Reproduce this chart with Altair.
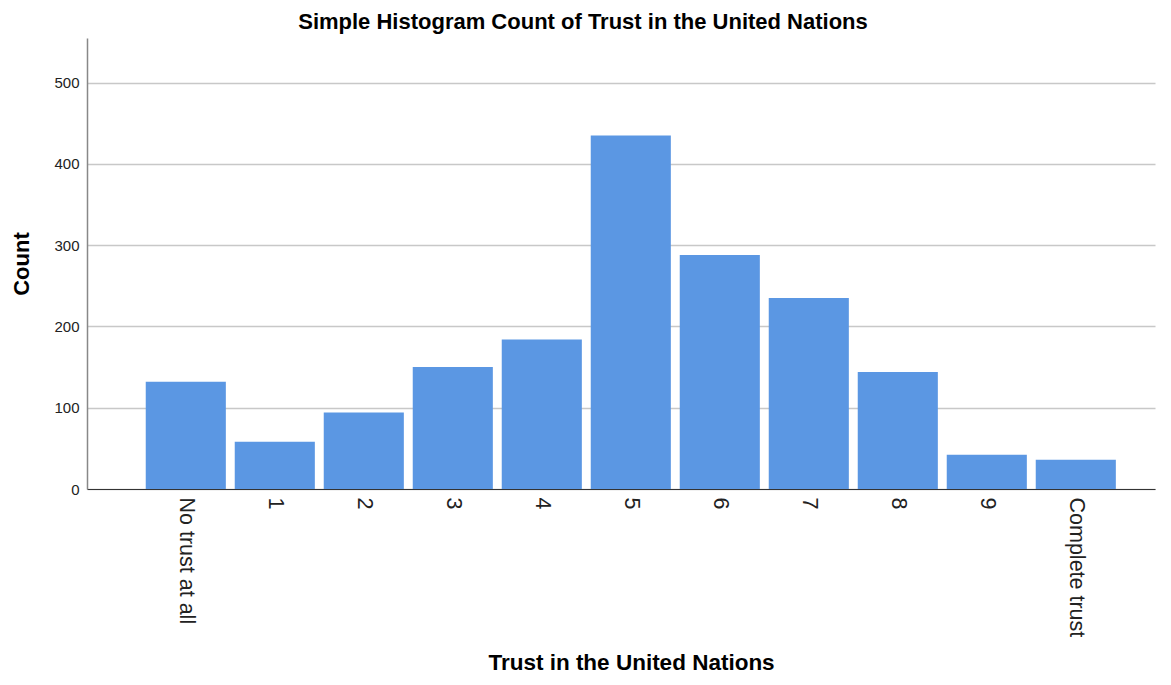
import altair as alt
import pandas as pd

categories = ["No trust at all", "1", "2", "3", "4", "5", "6", "7", "8", "9", "Complete trust"]
counts = [132, 58, 94, 150, 184, 435, 288, 235, 144, 42, 36]
y_ticks = [0, 100, 200, 300, 400, 500]

df = pd.DataFrame({"category": categories, "count": counts})

chart = alt.Chart(df).mark_bar(color="#5b97e3").encode(
    x=alt.X(
        "category:N",
        sort=categories,
        scale=alt.Scale(paddingInner=0.1, paddingOuter=0.55, align=0.6),
        axis=alt.Axis(
            title="Trust in the United Nations",
            labelAngle=90,
            labelFont="Liberation Sans",
            labelFontSize=21.5,
            labelColor="#222",
            labelPadding=8,
            ticks=False,
            domainColor="#333",
            domainWidth=1.2,
            titleFont="Liberation Sans",
            titleFontSize=22.5,
            titleFontWeight="bold",
            titleColor="#000",
            titlePadding=15,
            titleX=544,
            titleAlign="center",
        ),
    ),
    y=alt.Y(
        "count:Q",
        scale=alt.Scale(domain=[0, 555], nice=False),
        axis=alt.Axis(
            title="Count",
            values=y_ticks,
            labelFont="Liberation Sans",
            labelFontSize=15,
            labelColor="#222",
            labelPadding=8,
            ticks=False,
            domainColor="#888",
            domainWidth=1.5,
            gridColor="#c8c8c8",
            gridWidth=1.3,
            titleFont="Liberation Sans",
            titleFontSize=22,
            titleFontWeight="bold",
            titleColor="#000",
            titlePadding=20,
        ),
    ),
).properties(
    width=1068,
    height=451,
    title=alt.TitleParams(
        "Simple Histogram Count of Trust in the United Nations",
        font="Liberation Sans",
        fontSize=22,
        fontWeight="bold",
        color="#000",
        anchor="middle",
        dx=-38,
        offset=4,
    ),
    autosize=alt.AutoSizeParams(type="none"),
    padding={"left": 79, "top": 30, "right": 6, "bottom": 188},
).configure_view(stroke=None)

chart.save("out.html", embed_options={"renderer": "svg", "actions": False})
